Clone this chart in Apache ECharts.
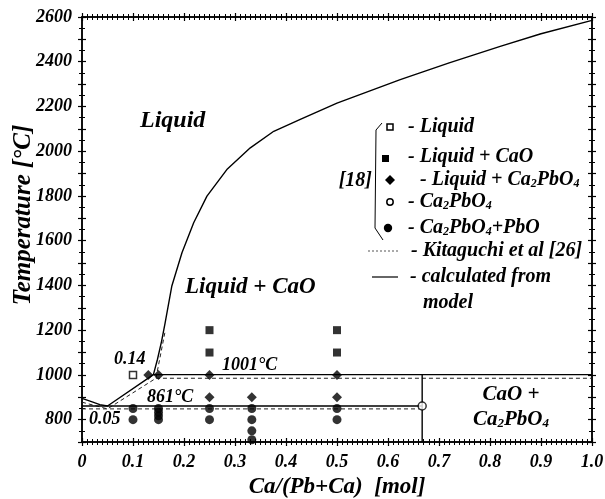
<!DOCTYPE html>
<html>
<head>
<meta charset="utf-8">
<script src="https://cdn.jsdelivr.net/npm/echarts@6/dist/echarts.min.js"></script>
<style>html,body{margin:0;padding:0;background:#fff}#c{width:605px;height:499px}</style>
</head>
<body>
<div id="c"></div>
<script>
// ---- data ----
const xTickLabels = ['0','0.1','0.2','0.3','0.4','0.5','0.6','0.7','0.8','0.9','1.0'];
const yTickLabels = ['800','1000','1200','1400','1600','1800','2000','2200','2400','2600'];

// calculated from model (solid)
const calcLiquidus = [[0,895],[0.02,879],[0.035,867],[0.05,861],[0.14,1001],[0.148,1070],[0.156,1150],[0.163,1233],[0.176,1396],[0.196,1546],[0.219,1680],[0.245,1799],[0.284,1918],[0.33,2015],[0.376,2089],[0.428,2142],[0.5,2215],[0.624,2320],[0.72,2395],[0.82,2469],[0.9,2525],[1.0,2585]];
const calcEutectic = [[0,861],[0.667,861]];
const calcPeritectic = [[0.14,1001],[1.0,1001]];
const calcVertical = [[0.667,700],[0.667,1001]];

// Kitaguchi et al [26] (dashed)
const kitaLiquidus = [[0,878],[0.05,848],[0.145,985],[0.163,1195]];
const kitaPeritectic = [[0.145,985],[1.0,985]];
const kitaEutectic = [[0,848],[0.667,848]];

// experimental points [18]
const ptsLiquid = [[0.1,1000]];
const ptsLiqCaO = [[0.25,1200],[0.25,1100],[0.5,1200],[0.5,1100]];
const ptsLiqCa2PbO4 = [[0.13,1000],[0.15,1000],[0.25,1000],[0.25,900],[0.333,900],[0.5,1000],[0.5,900]];
const ptsCa2PbO4 = [[0.667,861]];
const ptsCa2PbO4PbO = [[0.1,850],[0.1,800],[0.15,850],[0.15,833],[0.15,817],[0.15,800],[0.25,850],[0.25,800],[0.333,850],[0.333,800],[0.333,750],[0.333,710],[0.5,850],[0.5,800]];

// ---- chart ----
const FF = 'Liberation Serif';
const T = (extra) => Object.assign({fontFamily:FF,fontWeight:'bold',fontStyle:'italic',color:'#000'}, extra);
const chart = echarts.init(document.getElementById('c'));

function xAx(pos, inside, labels) {
  return {
    type:'value', position:pos, min:0, max:1, interval:0.1,
    axisLine:{show:true,onZero:false,lineStyle:{color:'#000',width:1.5}},
    axisTick:{show:true,inside:inside,length:4,lineStyle:{color:'#000',width:1.2}},
    minorTick:{show:true,splitNumber:10,length:3,lineStyle:{color:'#000',width:1}},
    splitLine:{show:false}, minorSplitLine:{show:false},
    axisLabel: labels ? T({fontSize:18,margin:11,formatter:(v)=>xTickLabels[Math.round(v*10)]}) : {show:false},
    name: labels ? 'Ca/(Pb+Ca)  [mol]' : '', nameLocation:'middle', nameGap:33,
    nameTextStyle:T({fontSize:23})
  };
}
function yAx(pos, inside, labels) {
  return {
    type:'value', position:pos, min:700, max:2600, interval:100,
    axisLine:{show:true,onZero:false,lineStyle:{color:'#000',width:1.5}},
    axisTick:{show:true,inside:inside,length:4,lineStyle:{color:'#000',width:1.2}},
    minorTick:{show:true,splitNumber:2,length:3,lineStyle:{color:'#000',width:1}},
    splitLine:{show:false}, minorSplitLine:{show:false},
    axisLabel: labels ? T({fontSize:18,margin:10,formatter:(v)=>{const s=String(v);return yTickLabels.indexOf(s)>=0?s:'';}}) : {show:false}
  };
}

const solid = {color:'#000',width:1.4};
const dashed = {color:'#222',width:1,type:[4,3]};
function lineS(data, style) {
  return {type:'line', data:data, showSymbol:false, symbol:'none', lineStyle:style, silent:true, z:2, xAxisIndex:0, yAxisIndex:0};
}
function scat(data, symbol, size, filled) {
  return {type:'scatter', data:data, symbol:symbol, symbolSize:size, silent:true, z:5, xAxisIndex:0, yAxisIndex:0,
    itemStyle: filled ? {color:'#000'} : {color:'#fff',borderColor:'#000',borderWidth:1.5}};
}

const gt = (text, x, y, size, align, rich) => ({
  type:'text', x:x, y:y, silent:true, z:10,
  style:{text:text, fill:'#000', fontFamily:FF, fontWeight:'bold', fontStyle:'italic', fontSize:size,
    align:align||'left', verticalAlign:'middle', rich:rich}
});
const subRich = (size) => ({s:{fontFamily:FF,fontWeight:'bold',fontStyle:'italic',fontSize:Math.round(size*0.6),verticalAlign:'bottom',fill:'#000'}});

const yTitle = gt('Temperature [°C]', 24, 215, 25, 'center');
yTitle.rotation = Math.PI / 2;

const graphics = [
  yTitle,
  gt('Liquid', 140, 121, 24),
  gt('Liquid + CaO', 185, 287, 23),
  gt('0.14', 114, 359, 18),
  gt('0.05', 89, 419, 18),
  gt('861°C', 147, 397, 18),
  gt('1001°C', 222, 365, 18),
  gt('CaO +', 511, 395, 21, 'center'),
  gt('Ca{s|2}PbO{s|4}', 511, 420, 21, 'center', subRich(21)),
  // legend
  {type:'rect', shape:{x:387,y:124,width:6,height:6}, style:{fill:'#fff',stroke:'#000',lineWidth:1.5}, silent:true},
  gt('- Liquid', 408, 127, 20),
  {type:'rect', shape:{x:382,y:155,width:7,height:7}, style:{fill:'#000'}, silent:true},
  gt('- Liquid + CaO', 408, 157, 20),
  {type:'polygon', shape:{points:[[390,175],[395,180],[390,185],[385,180]]}, style:{fill:'#000'}, silent:true},
  gt('- Liquid + Ca{s|2}PbO{s|4}', 420, 180, 20, 'left', subRich(20)),
  {type:'circle', shape:{cx:390,cy:202,r:3.2}, style:{fill:'#fff',stroke:'#000',lineWidth:1.5}, silent:true},
  gt('- Ca{s|2}PbO{s|4}', 408, 202, 20, 'left', subRich(20)),
  {type:'circle', shape:{cx:388,cy:228,r:4.2}, style:{fill:'#000'}, silent:true},
  gt('- Ca{s|2}PbO{s|4}+PbO', 408, 228, 20, 'left', subRich(20)),
  {type:'line', shape:{x1:368,y1:251,x2:398,y2:251}, style:{stroke:'#555',lineWidth:1,lineDash:[2,2]}, silent:true},
  gt('- Kitaguchi et al [26]', 411, 251, 20),
  {type:'line', shape:{x1:372,y1:277,x2:398,y2:277}, style:{stroke:'#000',lineWidth:1.2}, silent:true},
  gt('- calculated from', 410, 277, 20),
  gt('model', 423, 303, 20),
  gt('[18]', 372, 181, 20, 'right'),
  {type:'polyline', shape:{points:[[382,123],[376,130],[375,228],[383,240]]}, style:{stroke:'#000',lineWidth:1,fill:null}, silent:true}
];

chart.setOption({
  animation:false,
  backgroundColor:'#fff',
  grid:{left:82,right:13,top:17,bottom:57,containLabel:false,outerBoundsMode:'none'},
  xAxis:[xAx('bottom',false,true), xAx('bottom',true,false), xAx('top',false,false), xAx('top',true,false)],
  yAxis:[yAx('left',false,true), yAx('left',true,false), yAx('right',false,false), yAx('right',true,false)],
  series:[
    lineS(kitaLiquidus,dashed), lineS(kitaPeritectic,dashed), lineS(kitaEutectic,dashed),
    lineS(calcLiquidus,solid), lineS(calcEutectic,solid), lineS(calcPeritectic,solid), lineS(calcVertical,solid),
    scat(ptsLiquid,'rect',7,false),
    scat(ptsLiqCaO,'rect',8,true),
    scat(ptsLiqCa2PbO4,'diamond',10,true),
    scat(ptsCa2PbO4,'circle',8,false),
    scat(ptsCa2PbO4PbO,'circle',9,true)
  ],
  graphic:graphics
});
</script>
</body>
</html>
